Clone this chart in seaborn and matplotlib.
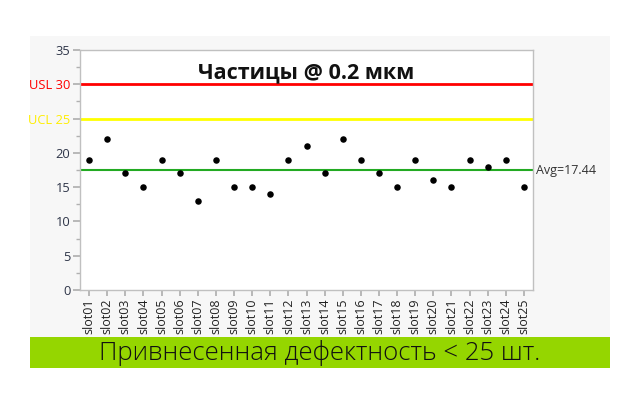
import matplotlib
matplotlib.use("Agg")
import matplotlib.pyplot as plt
import matplotlib.patches as mpatches
from matplotlib.ticker import MultipleLocator
import seaborn as sns
import pandas as pd

slots = [f"slot{i:02d}" for i in range(1, 26)]
values = [19, 22, 17, 15, 19, 17, 13, 19, 15, 15, 14, 19, 21, 17, 22,
          19, 17, 15, 19, 16, 15, 19, 18, 19, 15]
usl = 30
ucl = 25
title = "Частицы @ 0.2 мкм"
caption = "Привнесенная дефектность < 25 шт."

sns.set_theme(style="white")
plt.rcParams['font.family'] = ['Open Sans', 'DejaVu Sans']

df = pd.DataFrame({"slot": slots, "value": values})
avg = sum(values) / len(values)

fig = plt.figure(figsize=(6.4, 4.2), dpi=100)
fig.patch.set_facecolor("white")
# gray panel and green caption band
fig.add_artist(mpatches.Rectangle((30/640, 1-337/420), 580/640, 301/420,
                                  transform=fig.transFigure, facecolor="#f7f7f7",
                                  edgecolor="none", zorder=0))
fig.add_artist(mpatches.Rectangle((30/640, 1-368/420), 580/640, 31/420,
                                  transform=fig.transFigure, facecolor="#95d600",
                                  edgecolor="none", zorder=0))

ax = fig.add_axes([80/640, 1-290/420, 453/640, 240/420])
ax.set_facecolor("white")

ax.axhline(usl, color="#ff0000", lw=2, zorder=1)
ax.axhline(ucl, color="#ffff00", lw=2, zorder=1)
ax.axhline(avg, color="#22aa22", lw=1.5, zorder=1)

sns.scatterplot(data=df, x="slot", y="value", ax=ax, color="black", s=22,
                edgecolor="black", linewidth=0, zorder=3)

ax.set_xlim(-0.5, len(slots) - 0.5)
ax.set_ylim(0, 35)
ax.set_xlabel("")
ax.set_ylabel("")
ax.yaxis.set_major_locator(MultipleLocator(5))
ax.yaxis.set_minor_locator(MultipleLocator(2.5))
ax.set_yticks(range(0, 36, 5))
ylabels = []
for v in range(0, 36, 5):
    if v == usl:
        ylabels.append(f"USL {v}")
    elif v == ucl:
        ylabels.append(f"UCL {v}")
    else:
        ylabels.append(str(v))
ax.set_yticklabels(ylabels, fontsize=9.3, color="#2e3548")
for lab in ax.get_yticklabels():
    if lab.get_text().startswith("USL"):
        lab.set_color("#ff0000")
    elif lab.get_text().startswith("UCL"):
        lab.set_color("#ffee00")
ax.set_xticks(range(len(slots)))
ax.set_xticklabels(slots, rotation=90, fontsize=9, color="#222222")
ax.tick_params(axis="both", which="both", direction="out", color="#b0b0b0",
               left=True, bottom=True, pad=2)
ax.tick_params(axis="y", which="major", length=5)
ax.tick_params(axis="y", which="minor", length=3)
ax.tick_params(axis="x", which="major", length=4)
for sp in ax.spines.values():
    sp.set_color("#c0c0c0")
    sp.set_linewidth(1)

ax.text(0.5, 0.905, title, transform=ax.transAxes, ha="center", va="center",
        fontsize=15.5, fontweight="bold", color="#111111")
ax.text(1.006, avg, f"Avg={avg:.2f}", transform=ax.get_yaxis_transform(),
        ha="left", va="center", fontsize=9, color="#333333")

fig.text(320/640, 1-353/420, caption, ha="center", va="center", fontsize=18.5,
         fontweight="light", color="#111111")

fig.savefig("out.png", dpi=100)
